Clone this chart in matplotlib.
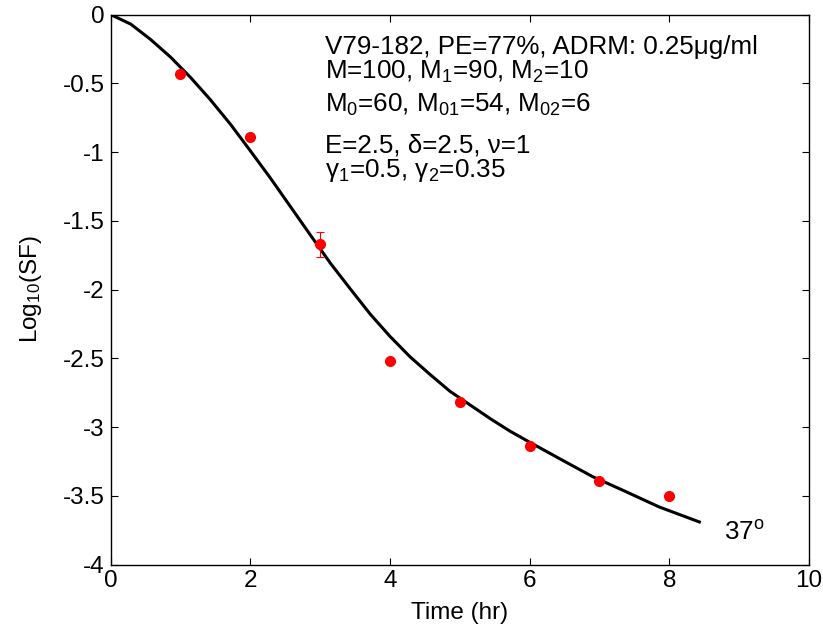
"""Survival fraction vs time: data points with model fit curve."""

import numpy as np
from matplotlib import pyplot as plt

#-----------------------------------------------------------------------------
# Data
#-----------------------------------------------------------------------------

t_data = [1, 2, 3, 4, 5, 6, 7, 8]
logsf_data = [-0.43, -0.89, -1.67, -2.52, -2.82, -3.14, -3.39, -3.50]
logsf_err = [0, 0, 0.09, 0, 0, 0, 0, 0]

t_fit = [0, 0.29, 0.57, 0.86, 1.15, 1.43, 1.72, 2.0, 2.29, 2.58, 2.87,
         3.15, 3.44, 3.72, 4.0, 4.29, 4.58, 4.86, 5.15, 5.44, 5.72, 6.0,
         6.43, 6.9, 7.38, 7.85, 8.43]
logsf_fit = [0, -0.07, -0.18, -0.31, -0.46, -0.62, -0.80, -0.99, -1.19,
             -1.40, -1.61, -1.81, -2.00, -2.18, -2.34, -2.49, -2.62, -2.74,
             -2.84, -2.94, -3.03, -3.11, -3.23, -3.36, -3.47, -3.58, -3.69]

info_lines = [
    'V79-182, PE=77%, ADRM: 0.25μg/ml',
    'M=100, M$_1$=90, M$_2$=10',
    'M$_0$=60, M$_{01}$=54, M$_{02}$=6',
    'E=2.5, δ=2.5, ν=1',
    'γ$_1$=0.5, γ$_2$=0.35',
]
info_y = [-0.29, -0.47, -0.71, -1.005, -1.18]

#-----------------------------------------------------------------------------
# Plot
#-----------------------------------------------------------------------------

plt.rcParams['font.family'] = ['Liberation Sans', 'DejaVu Sans']
plt.rcParams['mathtext.fontset'] = 'custom'
plt.rcParams['mathtext.rm'] = 'Liberation Sans'
plt.rcParams['mathtext.it'] = 'Liberation Sans'
plt.rcParams['mathtext.sf'] = 'Liberation Sans'

fig = plt.figure(figsize=(8.23, 6.34), dpi=100)
ax = fig.add_axes([0.1343, 0.1095, 0.8487, 0.8676])

ax.plot(t_fit, logsf_fit, color='k', linewidth=2.2,
        solid_joinstyle='round')
ax.errorbar(t_data, logsf_data, yerr=logsf_err, fmt='o', color='red',
            markersize=7, elinewidth=0.8, capsize=3, capthick=0.8)

ax.set_xlim(0, 10)
ax.set_ylim(-4, 0)
ax.set_xticks(range(0, 11, 2))
ax.set_yticks(np.arange(-4, 0.01, 0.5))
ax.set_yticklabels(['-4', '-3.5', '-3', '-2.5', '-2', '-1.5', '-1', '-0.5', '0'])
ax.tick_params(direction='in', top=True, right=True, length=5,
               labelsize=17.5, pad=4)
for s in ax.spines.values():
    s.set_linewidth(1)

ax.set_xlabel('Time (hr)', fontsize=17.5, labelpad=7)
ax.set_ylabel('Log$_{10}$(SF)', fontsize=17.5, labelpad=14)

for txt, y in zip(info_lines, info_y):
    ax.text(3.07, y, txt, fontsize=18.7, va='baseline', ha='left')

ax.text(8.78, -3.82, '37$^{\\rm o}$', fontsize=18.7, va='baseline', ha='left')

fig.savefig('out.png', dpi=100)
